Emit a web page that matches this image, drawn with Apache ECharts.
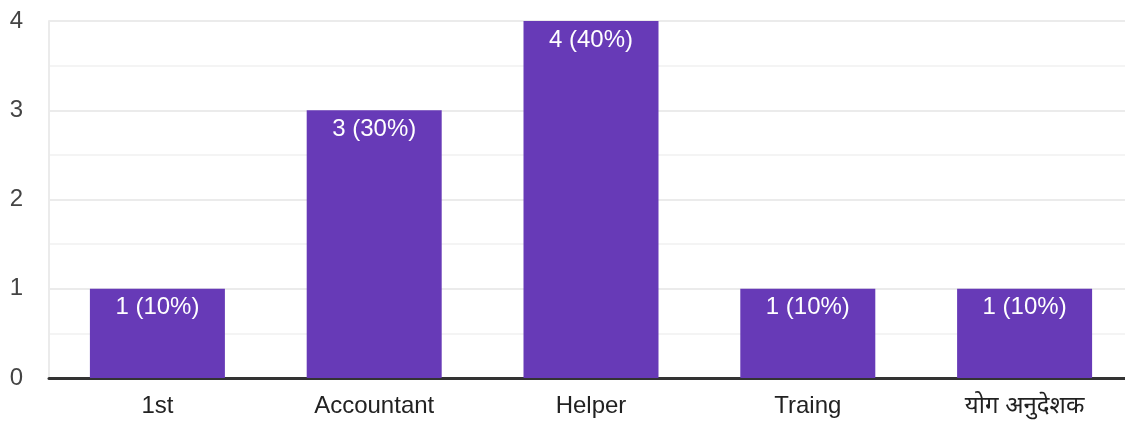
<!DOCTYPE html>
<html>
<head>
<meta charset="utf-8">
<script src="https://cdn.jsdelivr.net/npm/echarts@6/dist/echarts.min.js"></script>
<style>
html,body{margin:0;padding:0;background:#fff;overflow:hidden;}
#c{width:1140px;height:421px;}
</style>
</head>
<body>
<div id="c"></div>
<script>
const categories = ["1st", "Accountant", "Helper", "Traing", "योग अनुदेशक"];
const counts = [1, 3, 4, 1, 1];
const percents = [10, 30, 40, 10, 10];
const yTicks = [0, 1, 2, 3, 4];

const FONT = '"Liberation Sans", Arial, "Noto Sans", sans-serif';
const chart = echarts.init(document.getElementById('c'), null, {renderer: 'canvas'});
chart.setOption({
  animation: false,
  grid: {left: 49, right: 7, top: 21, bottom: 43, containLabel: false},
  xAxis: {
    type: 'category',
    data: categories,
    axisLine: {show: true, lineStyle: {color: '#333', width: 3}},
    axisTick: {show: false},
    axisLabel: {color: '#222', fontSize: 24, margin: 16, fontFamily: FONT}
  },
  yAxis: {
    type: 'value',
    min: yTicks[0],
    max: yTicks[yTicks.length - 1],
    interval: 1,
    axisLine: {show: true, lineStyle: {color: '#ebebeb', width: 2}},
    axisTick: {show: false},
    axisLabel: {color: '#444', fontSize: 24, margin: 26, fontFamily: FONT},
    splitLine: {show: true, lineStyle: {color: '#ebebeb', width: 2}},
    minorTick: {show: false, splitNumber: 2},
    minorSplitLine: {show: true, lineStyle: {color: '#f4f4f4', width: 2}}
  },
  series: [{
    type: 'bar',
    data: counts,
    barWidth: 135,
    itemStyle: {color: '#673ab7'},
    label: {
      show: true,
      position: 'insideTop',
      distance: 7,
      color: '#fff',
      fontSize: 24,
      fontFamily: FONT,
      formatter: p => counts[p.dataIndex] + ' (' + percents[p.dataIndex] + '%)'
    }
  }]
});
</script>
</body>
</html>
